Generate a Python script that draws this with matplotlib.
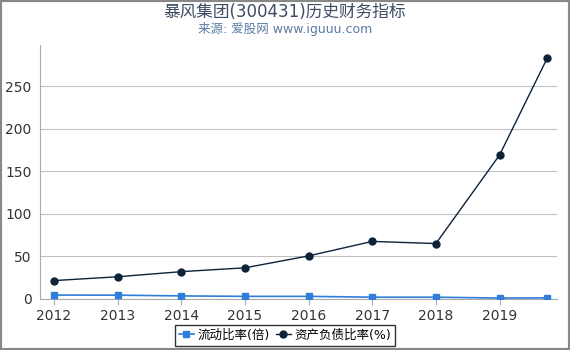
import matplotlib
matplotlib.use("Agg")
from matplotlib import pyplot as plt

plt.rcParams['font.family'] = ['DejaVu Sans', 'Noto Sans CJK SC']

years = [2012, 2013, 2014, 2015, 2016, 2017, 2018, 2019, 2019.75]
current_ratio = [4.5, 4.4, 3.5, 3.0, 3.0, 2.0, 2.0, 1.0, 1.2]
debt_ratio = [21.5, 26.0, 32.0, 36.5, 50.5, 67.5, 65.0, 169.0, 283.0]
xticks = [2012, 2013, 2014, 2015, 2016, 2017, 2018, 2019]
yticks = [0, 50, 100, 150, 200, 250]

fig = plt.figure(figsize=(5.7, 3.5), dpi=100)
ax = fig.add_axes([0.070, 0.146, 0.907, 0.725])

ax.plot(years, current_ratio, color="#2f7ed8", linewidth=1.2, marker="s",
        markersize=5, label="流动比率(倍)", zorder=3)
ax.plot(years, debt_ratio, color="#0d233a", linewidth=1.0, marker="o",
        markersize=5, label="资产负债比率(%)", zorder=3)

ax.set_xlim(2011.78, 2019.9)
ax.set_ylim(0, 298)
ax.set_xticks(xticks)
ax.set_yticks(yticks)
ax.tick_params(axis='both', labelsize=10, colors="#333333")
ax.tick_params(axis='y', length=0, pad=6)
ax.tick_params(axis='x', length=4, color="#aaaaaa")
ax.grid(axis='y', color="#c0c0c0", linewidth=0.8)
ax.set_axisbelow(True)
for s in ['top', 'right']:
    ax.spines[s].set_visible(False)
for s in ['left', 'bottom']:
    ax.spines[s].set_color("#aaaaaa")

fig.text(0.5, 0.965, "暴风集团(300431)历史财务指标", ha='center', va='center',
         fontsize=12, color="#3e4d63")
fig.text(0.5, 0.918, "来源: 爱股网 www.iguuu.com", ha='center', va='center',
         fontsize=9, color="#5b7ba3")

leg = fig.legend(loc='lower center', bbox_to_anchor=(0.5, -0.005), ncol=2,
                 fontsize=9, frameon=True, fancybox=False, handlelength=1.2,
                 handletextpad=0.3, columnspacing=0.5, borderpad=0.3)
leg.get_frame().set_edgecolor("black")
leg.get_frame().set_linewidth(1.0)

fig.patches.append(plt.Rectangle((0, 0), 1, 1, transform=fig.transFigure,
                                 fill=False, edgecolor="#888888", linewidth=3))

fig.savefig("out.png", dpi=100)
